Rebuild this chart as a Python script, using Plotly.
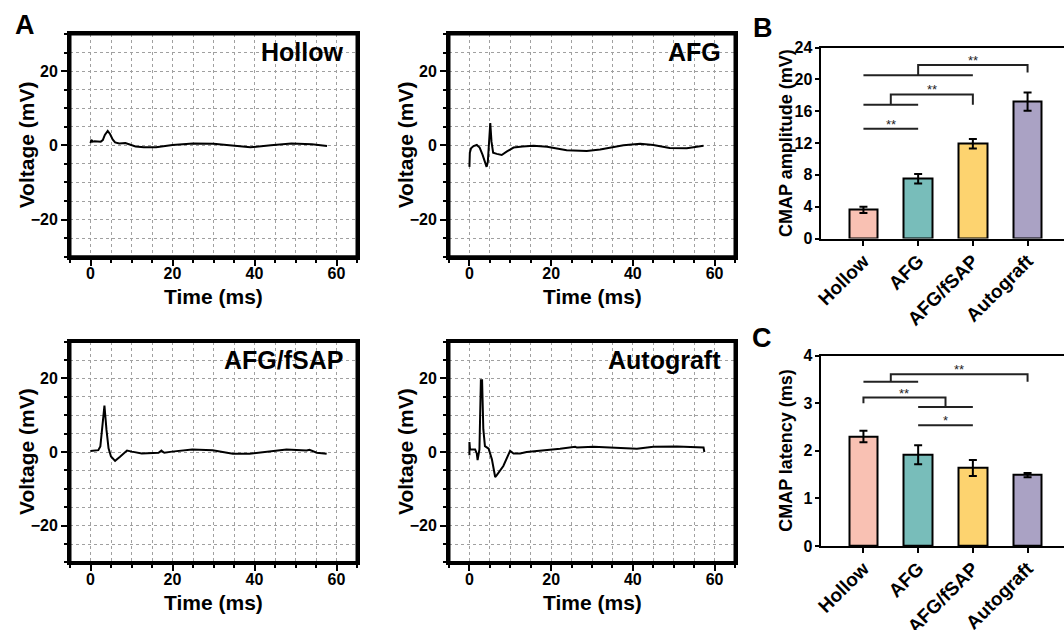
import plotly.graph_objects as go

W, H = 1064, 630
FONT = "Liberation Sans, Arial, Helvetica, sans-serif"

# ---------------- Data ----------------
hollow_t = [0, 0.2, 0.5, 1.0, 2.5, 3.0, 3.5, 4.2, 4.8, 5.4, 6.0, 7.0, 8.5, 9.5, 11, 13, 16, 20, 25, 30, 35, 39, 44, 49, 54, 57.7]
hollow_v = [0.6, 1.5, 1.0, 1.1, 1.0, 1.4, 2.8, 3.9, 3.0, 1.6, 0.8, 0.5, 0.6, 0.2, -0.3, -0.5, -0.5, 0.1, 0.5, 0.4, -0.2, -0.5, 0.0, 0.5, 0.3, -0.2]

afg_t = [0, 0.1, 0.4, 1.0, 1.8, 2.5, 3.2, 3.8, 4.2, 4.5, 4.8, 5.1, 5.4, 5.8, 6.7, 7.9, 9.1, 10.8, 13, 15.7, 19, 23.8, 28.7, 32, 37.7, 41.8, 45, 49, 53.2, 57.3]
afg_v = [-5.8, -2.0, -0.8, -0.2, 0.1, -0.6, -2.5, -4.8, -5.8, -4.5, 1.0, 6.0, 1.0, -2.0, -2.3, -2.6, -1.7, -0.6, -0.3, -0.1, -0.4, -1.3, -1.5, -1.1, 0.0, 0.4, 0.1, -0.7, -0.8, -0.1]

fsap_t = [0, 1.9, 2.4, 2.9, 3.4, 3.9, 4.4, 5.0, 6.0, 7.2, 8.9, 10.1, 12.5, 16.6, 17.3, 17.6, 18.0, 19.9, 24.8, 29.8, 34.7, 38.8, 42.9, 47.8, 52.7, 53.4, 55.2, 57.6]
fsap_v = [0.3, 0.5, 1.5, 7.0, 12.6, 6.0, 1.0, -1.2, -2.4, -1.3, 0.4, 0.1, -0.4, -0.2, 0.4, 0.1, -0.2, 0.1, 0.7, 0.5, -0.5, -0.5, 0.1, 0.7, 0.4, 0.6, -0.2, -0.5]

auto_t = [0, 0, 0, 0.15, 1.4, 1.8, 2.0, 2.2, 2.45, 2.8, 3.1, 3.4, 3.8, 4.7, 5.5, 6.3, 6.7, 8.3, 9.96, 10.8, 12.4, 14, 17.3, 22.2, 25.9, 26.3, 30.4, 35.3, 41, 45, 50.8, 57.3, 57.5]
auto_v = [-0.9, 2.7, 0.7, 0.7, 0.7, -0.4, -2.2, -0.2, 0.7, 19.5, 19.5, 6.2, 1.6, 0.9, -2.0, -6.8, -6.3, -3.8, 0.3, -0.4, -0.4, 0.0, 0.3, 0.9, 1.4, 1.2, 1.4, 1.2, 0.9, 1.4, 1.5, 1.2, 0.0]

trace_names = ["Hollow", "AFG", "AFG/fSAP", "Autograft"]

categories = ["Hollow", "AFG", "AFG/fSAP", "Autograft"]
bar_colors = ["#F9C1B3", "#78BDBA", "#FDD36F", "#AAA2C4"]
amp_mean = [3.6, 7.5, 11.9, 17.2]
amp_err = [0.4, 0.6, 0.6, 1.15]
lat_mean = [2.30, 1.92, 1.64, 1.49]
lat_err = [0.12, 0.20, 0.17, 0.045]

# significance comparisons
amp_sig = [
    dict(groups=(0, 1), y=13.8, label="**"),
    dict(base=(0, 1), base_y=16.8, to=2, top=18.1, end=16.8, label="**"),
    dict(base=(0, 2), base_y=20.5, to=3, top=21.8, end=20.85, label="**"),
]
lat_sig = [
    dict(base=(0, 1), base_y=3.45, to=3, top=3.61, end=3.45, label="**"),
    dict(base=(1, 2), base_y=2.92, to=0, top=3.12, end=3.0, label="**"),
    dict(groups=(1, 2), y=2.54, label="*"),
]

# ---------------- Layout helpers ----------------
def dx(a, b):
    return [a / W, b / W]

def dy(top, bottom):
    return [1 - bottom / H, 1 - top / H]

fig = go.Figure()

series = [(hollow_t, hollow_v), (afg_t, afg_v), (fsap_t, fsap_v), (auto_t, auto_v)]
xdoms = [dx(70, 357), dx(449, 735), dx(70, 357), dx(449, 735)]
ydoms = [dy(34, 256.7), dy(34, 256.7), dy(341.6, 562.4), dy(341.6, 562.4)]
xtitle_y = [296, 296, 602, 602]      # pixel rows of the "Time (ms)" titles
ytitle_x = [26, 405, 26, 405]        # pixel columns of the "Voltage (mV)" titles

tickfont = dict(family=FONT, size=16, color="black", weight="bold")
titlefont = dict(family=FONT, size=21, color="black", weight="bold")
grid = dict(showgrid=True, gridcolor="#a0a0a0", griddash="dot", gridwidth=1)

axes_layout = {}
for i, (t, v) in enumerate(series):
    n = i + 1
    xa = "x" if n == 1 else f"x{n}"
    ya = "y" if n == 1 else f"y{n}"
    fig.add_trace(go.Scatter(x=t, y=v, mode="lines", line=dict(color="black", width=2),
                             xaxis=xa, yaxis=ya, showlegend=False, hoverinfo="skip"))
    xkey = "xaxis" if n == 1 else f"xaxis{n}"
    ykey = "yaxis" if n == 1 else f"yaxis{n}"
    axes_layout[xkey] = dict(
        domain=xdoms[i], anchor=ya, range=[-5, 65], tick0=0, dtick=20,
        ticks="outside", ticklen=6, tickwidth=2, tickcolor="black",
        showline=True, linecolor="black", linewidth=3, mirror=True,
        zeroline=False, tickfont=tickfont, automargin=False, ticklabelstandoff=-6,
        minor=dict(dtick=5, tick0=0, ticks="outside", ticklen=3, tickwidth=2,
                   tickcolor="black", **grid),
        **grid,
    )
    axes_layout[ykey] = dict(
        domain=ydoms[i], anchor=xa, range=[-30, 30], tick0=0, dtick=20,
        ticks="outside", ticklen=6, tickwidth=2, tickcolor="black",
        showline=True, linecolor="black", linewidth=3, mirror=True,
        zeroline=False, tickfont=tickfont, automargin=False,
        minor=dict(dtick=5, tick0=0, ticks="outside", ticklen=3, tickwidth=2,
                   tickcolor="black", **grid),
        **grid,
    )
    # frame of the panel
    fig.add_shape(type="rect", xref=f"{xa} domain", yref=f"{ya} domain", x0=0, x1=1, y0=0, y1=1,
                  line=dict(color="black", width=3), fillcolor="rgba(0,0,0,0)", layer="above")
    # group name
    fig.add_annotation(text=trace_names[i], xref=f"{xa} domain", yref=f"{ya} domain",
                       x=0.958, y=0.918, xanchor="right", yanchor="middle", showarrow=False,
                       font=dict(family=FONT, size=25, color="black", weight="bold"))
    # axis titles
    xd, yd = xdoms[i], ydoms[i]
    fig.add_annotation(text="Time (ms)", xref="paper", yref="paper", x=(xd[0] + xd[1]) / 2,
                       y=1 - xtitle_y[i] / H, xanchor="center", yanchor="middle", showarrow=False,
                       font=titlefont)
    fig.add_annotation(text="Voltage (mV)", xref="paper", yref="paper", x=ytitle_x[i] / W,
                       y=(yd[0] + yd[1]) / 2, xanchor="center", yanchor="middle", textangle=-90,
                       showarrow=False, font=titlefont)

# ---------------- Bar panels ----------------
bar_specs = [
    (amp_mean, amp_err, "x5", "y5", dy(47.5, 238.5), [0, 24], 4, "CMAP amplitude (mV)", amp_sig),
    (lat_mean, lat_err, "x6", "y6", dy(355.7, 546), [0, 4], 1, "CMAP latency (ms)", lat_sig),
]
xpos = list(range(len(categories)))
for k, (mean, err, xa, ya, ydom, yr, ydt, ytitle, sigs) in enumerate(bar_specs):
    mk = dict(color=bar_colors, line=dict(color=["black"] * len(mean), width=[2] * len(mean)))
    fig.add_trace(go.Bar(x=xpos, y=mean, width=0.52, marker=mk,
                         error_y=dict(type="data", array=err, visible=True, color="black", thickness=2, width=4),
                         xaxis=xa, yaxis=ya, showlegend=False, hoverinfo="skip"))
    n = 5 + k
    axes_layout[f"xaxis{n}"] = dict(
        domain=dx(820.5, 1064), anchor=ya, range=[-0.785, 3.666],
        tickvals=xpos, ticktext=categories, tickangle=-45,
        ticks="outside", ticklen=5, tickwidth=2, tickcolor="black",
        showline=True, linecolor="black", linewidth=2, mirror=True,
        showgrid=False, zeroline=False, automargin=False, ticklabelstandoff=-3,
        tickfont=dict(family=FONT, size=19, color="black", weight="bold"),
    )
    axes_layout[f"yaxis{n}"] = dict(
        domain=ydom, anchor=xa, range=yr, dtick=ydt,
        ticks="outside", ticklen=4, tickwidth=2, tickcolor="black",
        showline=True, linecolor="black", linewidth=2, mirror=False,
        showgrid=False, zeroline=False, automargin=False, ticklabelstandoff=-1,
        tickfont=dict(family=FONT, size=16, color="black", weight="bold"),
    )
    fig.add_annotation(text=ytitle, xref="paper", yref="paper", x=786 / W, y=(ydom[0] + ydom[1]) / 2,
                       xanchor="center", yanchor="middle", textangle=-90, showarrow=False,
                       font=dict(family=FONT, size=18, color="black", weight="bold"))
    lw = dict(color="#222222", width=2)
    for s in sigs:
        if "groups" in s:
            a, b = s["groups"]
            fig.add_shape(type="line", xref=xa, yref=ya, x0=a, x1=b, y0=s["y"], y1=s["y"], line=lw)
            lx, ly = (a + b) / 2, s["y"]
        else:
            a, b = s["base"]
            mid = (a + b) / 2
            fig.add_shape(type="line", xref=xa, yref=ya, x0=a, x1=b, y0=s["base_y"], y1=s["base_y"], line=lw)
            fig.add_shape(type="path", xref=xa, yref=ya,
                          path=f"M {mid},{s['base_y']} L {mid},{s['top']} L {s['to']},{s['top']} L {s['to']},{s['end']}",
                          line=lw)
            lx, ly = (mid + s["to"]) / 2, s["top"]
        fig.add_annotation(text=s["label"], xref=xa, yref=ya, x=lx, y=ly, xanchor="center", yanchor="bottom",
                           yshift=-5, showarrow=False, font=dict(family=FONT, size=13, color="#222222"))

# panel letters
for letter, x, y in [("A", 13, 25), ("B", 751, 28), ("C", 750, 338)]:
    fig.add_annotation(text=letter, xref="paper", yref="paper", x=x / W, y=1 - y / H,
                       xanchor="left", yanchor="middle", showarrow=False,
                       font=dict(family=FONT, size=27, color="black", weight="bold"))

fig.update_layout(width=W, height=H, margin=dict(l=0, r=0, t=0, b=0),
                  paper_bgcolor="white", plot_bgcolor="white",
                  font=dict(family=FONT, color="black"), bargap=0, **axes_layout)

fig.write_html("out.html", config={"displayModeBar": False},
               post_script="document.body.style.margin='0';document.body.style.overflow='hidden';")
